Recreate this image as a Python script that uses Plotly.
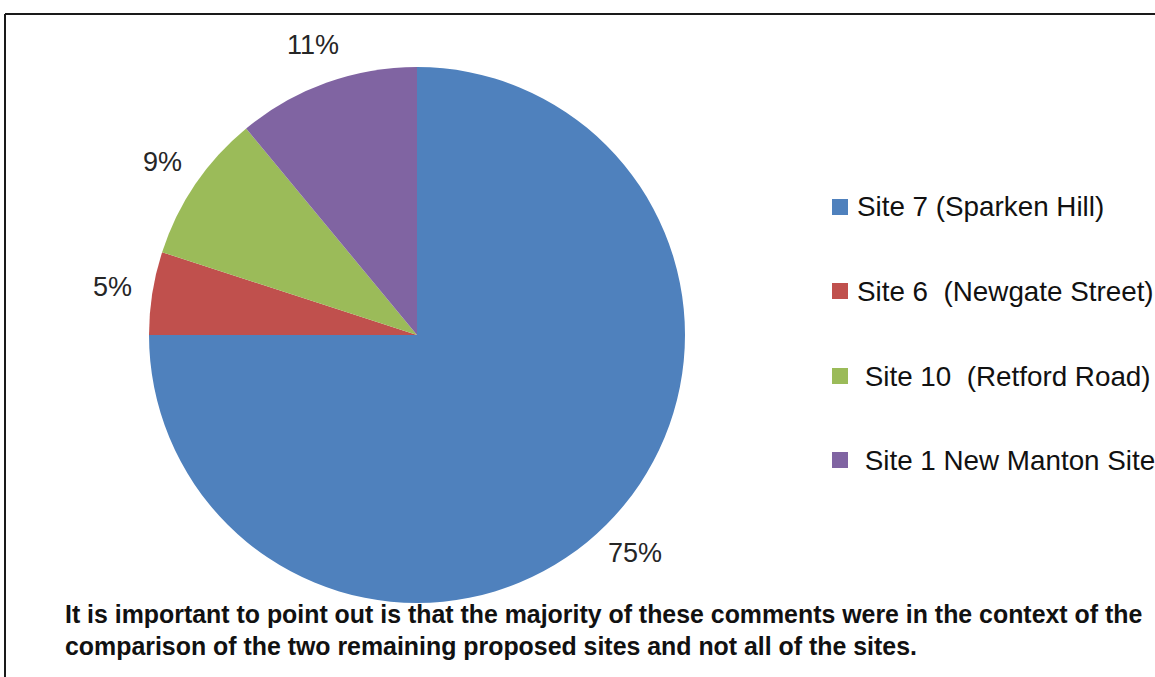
import math
import plotly.graph_objects as go

labels = ["Site 7 (Sparken Hill)", "Site 6  (Newgate Street)", " Site 10  (Retford Road)", " Site 1 New Manton Site"]
values = [75, 5, 9, 11]
colors = ["#4F81BD", "#C0504D", "#9BBB59", "#8064A2"]
note_lines = [
    "It is important to point out is that the majority of these comments were in the context of the",
    "comparison of the two remaining proposed sites and not all of the sites.",
]

W, H = 1155, 677
cx, cy, R = 417, 335, 268
FONT = "Liberation Sans"

fig = go.Figure(go.Pie(
    labels=labels, values=values, sort=False, direction="clockwise", rotation=0,
    marker=dict(colors=colors, line=dict(width=0)),
    textinfo="none",
    domain=dict(x=[(cx - R) / W, (cx + R) / W], y=[(H - cy - R) / H, (H - cy + R) / H]),
    showlegend=False, hoverinfo="label+percent",
))

# percentage labels placed outside each slice, derived from the values
total = sum(values)
cum = 0.0
for v in values:
    mid = (cum + v / 2) / total * 2 * math.pi  # clockwise from 12 o'clock
    cum += v
    r = 1.15 * R
    px = cx + r * math.sin(mid)
    py = cy - r * math.cos(mid)
    fig.add_annotation(x=px / W, y=(H - py) / H, xref="paper", yref="paper",
                       xanchor="center", yanchor="middle", showarrow=False,
                       text=f"{round(v / total * 100)}%",
                       font=dict(family=FONT, size=27, color="#262626"))

# legend with wide spacing
leg_y = [207, 291, 376, 460]
for lab, col, y in zip(labels, colors, leg_y):
    fig.add_shape(type="rect", xref="paper", yref="paper",
                  x0=832 / W, x1=848 / W, y0=(H - y - 8) / H, y1=(H - y + 8) / H,
                  fillcolor=col, line=dict(width=0))
    fig.add_annotation(x=855 / W, y=(H - y) / H, xref="paper", yref="paper",
                       xanchor="left", yanchor="middle", showarrow=False,
                       text=lab.replace(" ", "&nbsp;"),
                       font=dict(family=FONT, size=27.8, color="#111111"))

fig.add_annotation(x=63 / W, y=(H - 598) / H, xref="paper", yref="paper",
                   xanchor="left", yanchor="top", align="left", showarrow=False,
                   text="<b>" + "<br>".join(note_lines) + "</b>",
                   font=dict(family=FONT, size=24.9, color="#111111"))

# frame lines
fig.add_shape(type="line", xref="paper", yref="paper", x0=5 / W, x1=1, y0=(H - 14) / H, y1=(H - 14) / H,
              line=dict(color="#1a1a1a", width=2))
fig.add_shape(type="line", xref="paper", yref="paper", x0=5 / W, x1=5 / W, y0=0, y1=(H - 14) / H,
              line=dict(color="#1a1a1a", width=2))

fig.update_layout(width=W, height=H, margin=dict(l=0, r=0, t=0, b=0),
                  paper_bgcolor="white", plot_bgcolor="white")
fig.write_html("out.html", config={"displayModeBar": False},
               post_script="document.body.style.margin='0';")
